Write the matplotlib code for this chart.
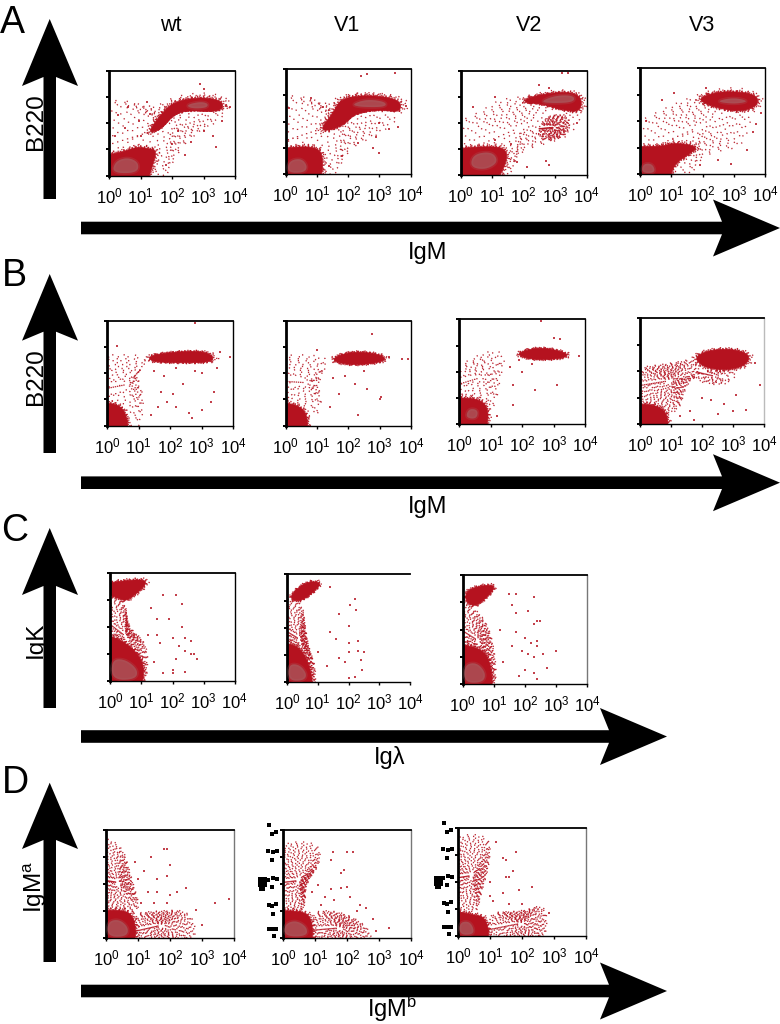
import matplotlib
matplotlib.use("Agg")
import matplotlib.pyplot as plt
import numpy as np
from matplotlib.patches import Polygon

plt.rcParams['font.family'] = ['Liberation Sans', 'DejaVu Sans']
plt.rcParams['mathtext.fontset'] = 'custom'
plt.rcParams['mathtext.rm'] = 'Liberation Sans'
plt.rcParams['mathtext.it'] = 'Liberation Sans'
plt.rcParams['mathtext.bf'] = 'Liberation Sans'

W, H = 780, 1024
RED = '#B5121F'
CORE = '#A95F63'

columns = ['wt', 'V1', 'V2', 'V3']
decades = [1, 10, 100, 1000, 10000]

A_wt_dense = [(0,0.72),(0.45,0.91),(0.88,1.10),(1.24,1.04),(1.51,0.97),(1.41,0.47),(1.19,0),(0,0)]
A_wt_band = [(1.25,1.67),(1.62,2.30),(2.04,2.81),(2.89,3.0),(3.58,2.87),(3.63,2.56),(3.31,2.43),(2.46,2.49),(2.04,2.30),(1.73,1.86),(1.46,1.67)]
A_wt_core = [(0.1,0.1),(0.2,0.55),(0.6,0.7),(0.95,0.5),(0.9,0.1)]
A_wt_core2 = [(2.46,2.7),(2.9,2.82),(3.15,2.75),(3.1,2.58),(2.6,2.56)]
A_wt_halo = [(0,0),(0,2.8),(0.5,2.9),(1.4,2.55),(2.1,3.05),(3.2,3.2),(3.95,2.85),(3.7,2.35),(3.2,1.85),(2.5,1.4),(2,0.5),(1.7,0)]
A_wt_dots = [(0.3,2.3),(0.6,2.6),(0.95,2.1),(0.5,1.8),(1.3,2.35),(1.0,1.5),(2.6,1.3),(3.0,1.7),(3.3,1.5),(2.9,3.5),(3.0,3.3),(2.0,1.2),(2.4,0.8),(3.4,1.1),(1.8,0.4),(2.2,1.7),(3.6,2.1),(3.7,2.65),(3.85,2.6),(1.2,2.8),(0.2,1.5)]

A_v1_dense = [(0,0),(0,0.95),(0.5,1.05),(1,1.0),(1.2,0.7),(1.15,0)]
A_v1_band = [(1.1,1.7),(1.5,2.3),(1.75,2.85),(2.4,3.0),(3.2,2.95),(3.7,2.75),(3.65,2.35),(3.0,2.45),(2.2,2.3),(1.9,1.9),(1.4,1.65)]
A_v1_core = [(0.05,0.05),(0.1,0.5),(0.5,0.6),(0.7,0.3),(0.6,0.05)]
A_v1_core2 = [(2.1,2.65),(2.6,2.85),(3.2,2.75),(3.2,2.55),(2.4,2.55)]
A_v1_halo = [(0,0),(0,3),(0.7,2.95),(1.3,2.6),(1.7,3),(2.8,3.15),(3.8,2.8),(3.7,2.2),(3,1.5),(2,1),(1.5,0)]
A_v1_dots = [(2.4,3.75),(2.6,3.8),(3.5,3.85),(3.6,1.8),(3.3,1.7),(2.9,1.4),(0.8,2.9),(1.2,2.55),(3.0,1.95),(2.3,1.2),(1.8,0.7),(2.8,1.0),(1.4,0.3),(3.85,2.6),(0.1,2.5),(3.0,0.8)]

A_v2_dense = [(0,0),(0,1.0),(0.8,1.1),(1.4,1.05),(1.5,0.6),(1.1,0)]
A_v2_band = [(2.0,2.9),(2.6,3.1),(3.4,3.2),(3.85,3.0),(3.8,2.4),(3.2,2.5),(2.5,2.75),(2.1,2.75)]
A_v2_core = [(0.3,0.3),(0.4,0.8),(1.0,0.9),(1.2,0.5),(0.8,0.2)]
A_v2_core2 = [(2.5,2.8),(3.0,3.05),(3.6,3.05),(3.6,2.8),(3.0,2.75)]
A_v2_halo = [(0,0),(0,1.9),(0.6,2.4),(1.2,2.9),(2,3.0),(3,3.3),(3.9,3.2),(3.9,2.4),(3.5,1.5),(2.7,1.2),(1.8,0.9),(1.5,0)]
A_v2_mid = [(2.4,1.4),(2.6,2.2),(3.4,2.4),(3.5,1.7),(3.0,1.3)]
A_v2_dots = [(3.2,3.9),(3.4,3.92),(2.5,3.45),(2.8,3.35),(1.1,3.0),(0.4,2.6),(2.8,0.4),(2.7,0.55),(1.8,0.5),(2.1,0.3),(3.7,2.0),(1.1,1.35),(1.6,1.2)]

A_v3_dense = [(0,0),(0,1.05),(0.7,1.05),(1.1,1.2),(1.9,1.05),(1.5,0.7),(1.1,0.4),(0.9,0)]
A_v3_band = [(1.9,2.9),(2.6,3.15),(3.7,3.05),(3.8,2.6),(3.2,2.35),(2.5,2.5),(2.0,2.7)]
A_v3_core = [(0.05,0.05),(0.1,0.4),(0.4,0.4),(0.5,0.05)]
A_v3_core2 = [(2.4,2.75),(3.0,2.9),(3.5,2.75),(3.0,2.65)]
A_v3_halo = [(0,0),(0,1.8),(0.8,2.5),(1.6,2.9),(2.3,3.2),(3.2,3.3),(3.9,3),(3.5,2),(3.3,1),(2,0.8),(1.5,0)]
A_v3_dots = [(1.1,3.05),(0.7,2.8),(3.7,1.9),(3.6,1.6),(2.5,0.55),(2.9,0.4),(1.9,0.35),(3.4,0.9),(0.2,2.0),(2.1,3.25),(3.85,2.3)]

B_wt_dense = [(0,0),(0,0.85),(0.3,0.85),(0.6,0.5),(0.7,0)]
B_wt_band = [(1.3,2.65),(2,2.8),(3,2.85),(3.4,2.65),(3.3,2.4),(2,2.4),(1.4,2.45)]
B_wt_halo = [(0,2.7),(0,0),(1,0),(1.2,1),(0.9,2),(1.3,2.4),(1,2.7),(0.5,2.7)]
B_wt_dots = [(1.5,2.1),(1.8,1.9),(2.2,2.2),(2.4,1.6),(1.7,1.3),(1.9,0.9),(2.2,0.7),(2.6,0.5),(3.0,0.6),(3.3,0.9),(3.4,1.3),(3.0,2.0),(3.5,2.2),(3.6,2.8),(2.8,2.1),(1.4,0.4),(1.6,0.7),(2.1,1.2),(2.7,0.3),(0.3,3.05),(3.9,2.6),(2.8,3.9)]

B_v1_dense = [(0,0),(0,0.9),(0.4,0.8),(0.7,0.4),(0.7,0)]
B_v1_band = [(1.5,2.6),(2.2,2.85),(3.1,2.7),(3.2,2.45),(2.3,2.3),(1.6,2.4)]
B_v1_halo = [(0,0.9),(0,2.7),(1.0,2.7),(1.4,2.5),(1.0,1.6),(1.2,0.8),(0.8,0.1)]
B_v1_dots = [(2.75,3.5),(3.3,2.6),(3.7,2.55),(3.9,2.55),(2.5,2.1),(2.6,1.4),(3.0,1.0),(2.3,0.4),(1.9,1.9),(2.2,1.6),(1.4,0.7),(3.05,1.1),(1.7,1.2),(1.5,1.8),(1.0,2.9)]

B_v2_dense = [(0,0),(0,1.0),(0.6,1.0),(0.95,0.6),(0.85,0)]
B_v2_band = [(1.9,2.75),(2.6,2.95),(3.5,2.7),(3.3,2.5),(2.4,2.45),(1.9,2.6)]
B_v2_core = [(0.2,0.25),(0.3,0.6),(0.6,0.55),(0.55,0.2)]
B_v2_halo = [(0,0.9),(0,2),(0.9,2.85),(1.5,2.7),(1.3,1.8),(1.1,0.3)]
B_v2_dots = [(3.0,3.3),(3.2,3.25),(2.6,3.95),(3.1,1.5),(2.4,1.3),(1.7,0.75),(1.7,1.5),(2.0,2.0),(2.3,2.3),(3.8,2.6),(1.2,0.3),(1.9,2.45),(1.6,2.2)]

B_v3_dense = [(0,0),(0,0.75),(0.5,0.75),(0.9,0.4),(0.9,0)]
B_v3_band = [(1.7,2.5),(2.2,2.8),(3,2.85),(3.6,2.6),(3.3,2.1),(2.2,2.05)]
B_v3_halo = [(0,0.8),(0,2.1),(1,2.3),(1.8,2.5),(2.0,1.9),(1.5,1.6),(1.2,0.2)]
B_v3_halo2 = [(1.5,1.9),(2.2,2.05),(3.2,2.1),(2.9,1.5),(2.1,1.5)]
B_v3_dots = [(2.0,1.0),(2.3,0.9),(2.7,0.75),(3.0,0.5),(3.4,0.55),(3.85,1.5),(2.5,0.4),(3.1,1.1),(1.6,0.5),(1.3,0.3),(1.75,0.15),(3.7,2.3)]

C_wt_dense = [(0,0),(0,1.8),(0.4,1.5),(0.9,1.0),(1.1,0.5),(1.0,0)]
C_wt_band = [(0,3.3),(0,3.6),(1.1,3.8),(1.15,3.55),(0.8,3.2),(0.5,2.95),(0.2,3.1)]
C_wt_core = [(0.05,0.05),(0.05,0.8),(0.5,0.8),(0.9,0.4),(0.8,0.05)]
C_wt_halo = [(0,1.5),(0,3.5),(0.5,3),(0.55,2),(1.2,1.4),(1.2,0.2),(0.9,0)]
C_wt_dots = [(1.3,2.7),(1.7,3.2),(2.1,3.2),(2.3,2.85),(1.5,2.3),(1.9,2.3),(2.0,1.6),(2.4,1.6),(2.6,1.5),(2.2,1.3),(1.6,1.4),(2.4,1.1),(2.6,1.0),(2.1,0.8),(2.0,0.3),(2.4,0.35),(2.7,1.0),(1.4,0.7),(1.7,0.3),(1.5,1.7),(2.8,0.8),(2.3,2.0),(1.2,1.7),(2.0,0.4)]

C_v1_dense = [(0,0),(0,1.4),(0.3,1.4),(0.7,0.8),(0.9,0)]
C_v1_band = [(0.1,3.2),(0.6,3.7),(1.1,3.7),(1.0,3.45),(0.5,3.0),(0.2,3)]
C_v1_core = [(0.05,0.05),(0.05,0.65),(0.4,0.65),(0.65,0.3),(0.55,0.05)]
C_v1_halo = [(0,1.2),(0,3.2),(0.5,3.0),(0.6,2.0),(0.7,1.3),(0.95,0.5),(0.9,0)]
C_v1_dots = [(1.4,3.5),(2.2,3.05),(2.05,2.85),(2.25,2.65),(1.7,2.5),(1.4,1.85),(1.6,1.6),(2.0,1.45),(2.0,1.1),(2.3,1.15),(2.5,1.1),(1.7,0.9),(1.9,0.75),(2.4,0.8),(2.45,0.45),(2.2,0.2),(2.0,0.15),(1.0,1.1),(1.3,0.6),(2.3,1.5),(2.0,2.05)]

C_v2_dense = [(0,0),(0,1.5),(0.7,1.3),(0.95,0.5),(0.95,0)]
C_v2_band = [(0.1,3.0),(0.1,3.45),(0.7,3.65),(1.1,3.6),(0.7,3.1),(0.4,2.85)]
C_v2_core = [(0.05,0.05),(0.05,0.7),(0.45,0.8),(0.75,0.4),(0.65,0.05)]
C_v2_halo = [(0,1.4),(0,3.2),(0.4,2.8),(0.8,2.2),(1.0,1.4),(1.1,0.3),(0.95,0)]
C_v2_dots = [(1.5,3.3),(1.7,3.3),(2.3,3.2),(1.6,2.9),(1.7,2.6),(2.1,2.7),(2.4,2.3),(2.5,2.3),(2.3,2.2),(1.2,2.0),(1.6,1.4),(1.7,1.9),(2.0,1.7),(2.2,1.5),(2.4,1.6),(1.9,1.2),(2.1,1.1),(2.3,1.0),(2.6,1.1),(2.7,0.6),(2.0,0.5),(2.3,0.4),(2.4,0.2),(3.0,1.2),(1.3,0.8),(1.8,0.3),(2.4,1.4)]

D_wt_dense = [(0,0),(0,1.0),(0.5,1.05),(0.9,0.8),(0.95,0)]
D_wt_band = [(0,0.9),(0,3.8),(0.5,3.5),(0.8,2.2),(1.1,1),(0.6,0.8)]
D_wt_core = [(0.05,0.05),(0.05,0.6),(0.4,0.7),(0.7,0.4),(0.65,0.05)]
D_wt_halo = [(0.8,0),(0.8,0.9),(1.5,1.0),(2.7,1.05),(2.85,0)]
D_wt_dots = [(0.9,2.8),(1.4,3.0),(1.8,3.3),(1.9,3.3),(2.0,2.7),(1.6,2.2),(1.9,2.3),(1.3,1.7),(1.6,1.7),(2.0,1.6),(2.5,1.85),(2.2,1.7),(1.1,1.3),(1.5,1.3),(1.9,1.3),(3.4,1.3),(3.85,1.45),(2.8,1.05),(3.0,0.5),(1.0,2.2),(1.2,2.5)]

D_v1_dense = [(0,0),(0,1),(0.5,1),(0.9,0.8),(0.95,0)]
D_v1_band = [(0,0.8),(0,3.5),(1.1,3.6),(1.2,2.8),(0.7,2),(0.7,1.2),(0.5,0.8)]
D_v1_core = [(0.05,0.05),(0.05,0.5),(0.4,0.65),(0.75,0.4),(0.75,0.05)]
D_v1_halo = [(0.8,0),(0.8,1.0),(1.8,1.0),(2.7,0.4),(2.8,0)]
D_v1_dots = [(1.5,2.9),(1.55,3.2),(2.0,3.2),(2.2,3.2),(1.8,2.4),(1.9,2.5),(1.5,1.8),(1.8,1.85),(2.0,1.9),(1.3,1.5),(1.6,1.4),(2.1,1.5),(2.4,1.2),(2.6,1.1),(2.8,0.7),(3.3,0.35),(2.9,0.25),(0.9,1.7),(1.2,1.2),(2.3,1.0),(1.1,1.95)]

D_v2_dense = [(0,0),(0,1),(0.4,0.8),(0.9,0.7),(1,0)]
D_v2_band = [(0,0.8),(0,3.7),(1.0,3.8),(1.0,2.7),(0.7,1.5),(0.6,0.8)]
D_v2_core = [(0.05,0.05),(0.05,0.5),(0.35,0.55),(0.5,0.25),(0.45,0.05)]
D_v2_halo = [(0.9,0),(0.9,0.9),(2.0,0.9),(2.7,1.2),(2.8,0.4),(2.6,0)]
D_v2_dots = [(1.2,3.5),(1.4,2.9),(1.5,2.8),(1.8,3.1),(1.6,2.2),(1.5,2.2),(1.7,2.4),(2.3,1.8),(1.9,1.7),(1.0,2.0),(1.4,1.6),(2.0,1.2),(2.85,0.85),(1.1,1.3),(1.6,1.2),(1.0,1.5)]

# Stray black specks of the scanned tick labels, in picture pixels.
speck_x = [269,272,276,268,273,277,272,268,273,277,272,269,272,276,273,269,272,276,274,
           444,447,451,443,448,452,447,443,448,452,447,444,447,451,448,444,447,451,449]
speck_y = [825,834,832,851,852,851,860,880,878,879,887,905,906,904,914,929,929,929,936,
           823,832,830,849,850,849,858,878,876,877,885,903,904,902,912,927,927,927,934]
blob_x = [261,264,261,264,262, 437,440,437,440,438]
blob_y = [880,880,884,884,888, 879,879,883,883,886]


def smooth(points, rounds=3):
    # Corner-cutting, so that an outline read at a few points draws as a rounded cloud.
    p = np.array(points, dtype=float)
    # points on the axis edge run on past it, so that rounding does not pull them off it
    p[p == 0] = -0.35
    for _ in range(rounds):
        nxt = np.roll(p, -1, axis=0)
        p = np.column_stack((0.75 * p + 0.25 * nxt, 0.25 * p + 0.75 * nxt)).reshape(-1, 2)
    return p


def to_axis(arr):
    return np.column_stack((10.0 ** arr[:, 0], 10.0 ** arr[:, 1]))


def make_axes(box, rightcol='black', rightlw=1.0):
    left, right, top, bottom = box
    ax = fig.add_axes([left / W, 1 - bottom / H, (right - left) / W, (bottom - top) / H])
    ax.set_xscale('log')
    ax.set_yscale('log')
    ax.set_xlim(1, 1e4)
    ax.set_ylim(1, 1e4)
    ax.set_xticks(decades)
    ax.set_yticks(decades)
    ax.tick_params(axis='x', which='major', direction='out', length=2.5, width=1.0, pad=5, labelsize=12)
    ax.tick_params(axis='x', which='minor', direction='out', length=1.2, width=0.8)
    ax.tick_params(axis='y', which='major', direction='out', length=2.5, width=1.4, labelleft=False)
    ax.tick_params(axis='y', which='minor', direction='out', length=1.2, width=0.8, labelleft=False)
    ax.spines['left'].set_linewidth(2.0)
    ax.spines['top'].set_linewidth(1.3)
    ax.spines['bottom'].set_linewidth(1.0)
    ax.spines['right'].set_linewidth(rightlw)
    ax.spines['right'].set_color(rightcol)
    return ax


def ring(ax, shape, scale, gap, z, lw=1.0, alpha=0.9):
    centre = shape.mean(axis=0)
    out = to_axis(centre + (shape - centre) * scale)
    ax.add_patch(Polygon(out, closed=True, facecolor='none', edgecolor=RED, lw=lw,
                         ls=(0, (0.9, gap)), alpha=alpha, zorder=z))


def speckled(ax, outline, gaps, z):
    # The speckle of a sparse cloud: dotted rings, filling the outline from the middle out.
    shape = smooth(outline)
    scales = np.linspace(1.0, 0.12, len(gaps))
    for s, g in zip(scales, gaps):
        ring(ax, shape, s, g, z)


SPARSE = [7.3, 6.1, 5.3, 4.7, 5.9, 4.3, 5.1, 3.9, 4.9, 4.1, 5.7, 3.7, 4.3, 3.3]
THICK = [4.7, 2.9, 3.7, 2.3, 3.1, 2.7, 1.9, 3.3, 2.1, 2.6, 1.7, 2.4, 3.0, 1.8, 2.2, 1.6, 2.8, 2.0, 1.7, 2.3, 1.5, 2.5]


def cloud(ax, halos=(), thick=(), solids=(), cores=(), dots=()):
    for h in halos:
        speckled(ax, h, SPARSE, 1)
    for t in thick:
        speckled(ax, t, THICK, 1.3)
    for s in solids:
        shape = smooth(s)
        ax.add_patch(Polygon(to_axis(shape), closed=True, facecolor=RED, edgecolor=RED, lw=0.5, zorder=2))
        for sc, g in zip((1.03, 1.07, 1.12, 1.18), (1.3, 2.1, 3.3, 5.2)):
            ring(ax, shape, sc, g, 1.8)
    for c in cores:
        shape = to_axis(smooth(c))
        ax.add_patch(Polygon(shape, closed=True, facecolor=CORE, edgecolor=CORE, lw=2.5, alpha=0.25, zorder=3))
        ax.add_patch(Polygon(shape, closed=True, facecolor=CORE, edgecolor='none', alpha=0.6, zorder=3.1))
    if len(dots):
        d = to_axis(np.array(dots))
        ax.scatter(d[:, 0], d[:, 1], s=1.8, marker='s', color=RED, linewidths=0, alpha=0.8, zorder=4)


fig = plt.figure(figsize=(W / 100, H / 100), dpi=100)

panels = [
    ((109, 235, 70.7, 175.7), [A_wt_halo], [], [A_wt_dense, A_wt_band], [A_wt_core, A_wt_core2], A_wt_dots, 'black'),
    ((285.7, 410.7, 69, 174), [A_v1_halo], [], [A_v1_dense, A_v1_band], [A_v1_core, A_v1_core2], A_v1_dots, 'black'),
    ((460.7, 586.7, 70.7, 175), [A_v2_halo], [A_v2_mid], [A_v2_dense, A_v2_band], [A_v2_core, A_v2_core2], A_v2_dots, 'black'),
    ((640, 765.3, 68.3, 174.3), [A_v3_halo], [], [A_v3_dense, A_v3_band], [A_v3_core, A_v3_core2], A_v3_dots, 'black'),
    ((107.3, 233, 320.7, 425.7), [B_wt_halo], [], [B_wt_dense, B_wt_band], [], B_wt_dots, 'black'),
    ((285.7, 411, 320.7, 425.7), [B_v1_halo], [], [B_v1_dense, B_v1_band], [], B_v1_dots, 'black'),
    ((459.3, 585.3, 319.3, 424.3), [B_v2_halo], [], [B_v2_dense, B_v2_band], [B_v2_core], B_v2_dots, 'black'),
    ((640, 764.3, 318.3, 424.3), [B_v3_halo2], [B_v3_halo], [B_v3_dense, B_v3_band], [], B_v3_dots, '#BBBBBB'),
    ((110.3, 234.7, 573, 681), [], [C_wt_halo], [C_wt_dense, C_wt_band], [C_wt_core], C_wt_dots, 'black'),
    ((287, 410, 573.7, 682), [], [C_v1_halo], [C_v1_dense, C_v1_band], [C_v1_core], C_v1_dots, 'white'),
    ((462.7, 587, 575.3, 684), [], [C_v2_halo], [C_v2_dense, C_v2_band], [C_v2_core], C_v2_dots, '#777777'),
    ((106, 234.3, 830, 938), [], [D_wt_halo, D_wt_band], [D_wt_dense], [D_wt_core], D_wt_dots, '#777777'),
    ((283, 411, 830, 937.7), [], [D_v1_halo, D_v1_band], [D_v1_dense], [D_v1_core], D_v1_dots, '#777777'),
    ((458, 586.3, 828, 936), [], [D_v2_halo, D_v2_band], [D_v2_dense], [D_v2_core], D_v2_dots, '#777777'),
]
for box, halos, thick, solids, cores, dots, rc in panels:
    ax = make_axes(box, rightcol=rc)
    cloud(ax, halos, thick, solids, cores, dots)

ov = fig.add_axes([0, 0, 1, 1], zorder=10)
ov.set_xlim(0, W)
ov.set_ylim(H, 0)
ov.axis('off')
ov.patch.set_alpha(0)

SHAFT_V = (43.5, 56)
CX = 49.7
for tip, back, notch, end in [(19, 86, 77, 199), (274, 340.7, 331.7, 453), (528, 595, 586, 708), (782.7, 849, 840, 962)]:
    ov.add_patch(Polygon([(CX, tip), (78, back), (SHAFT_V[1], notch), (SHAFT_V[1], end), (SHAFT_V[0], end),
                          (SHAFT_V[0], notch), (22, back)], closed=True, fc='black', ec='none', zorder=5))
for cy, tipx, backx, notchx, half in [(228, 780, 713, 722, 28.5), (482.7, 780, 713, 722, 28.5), (736.5, 667, 600, 609, 28.5), (991, 667, 600, 609, 28.5)]:
    ov.add_patch(Polygon([(tipx, cy), (backx, cy + half), (notchx, cy + 6.3), (81, cy + 6.3), (81, cy - 6.3),
                          (notchx, cy - 6.3), (backx, cy - half)], closed=True, fc='black', ec='none', zorder=5))

ov.scatter(speck_x, speck_y, s=5, marker='s', color='black', linewidths=0, zorder=6)
ov.scatter(blob_x, blob_y, s=16, marker='s', color='black', linewidths=0, zorder=6)

for letter, x, y in [('A', 0, 33), ('B', 1.5, 286), ('C', 1, 541), ('D', 2, 793)]:
    ov.text(x, y, letter, fontsize=27, ha='left', va='baseline', color='black')
for name, x in zip(columns, [171, 347, 529, 702]):
    ov.text(x, 31, name, fontsize=15.5, ha='center', va='baseline', color='black')
for label, y in [('B220', 122), ('B220', 377), ('IgK', 640), (r'IgM$^{\mathrm{a}}$', 887)]:
    ov.text(42.2, y, label, fontsize=17.5, rotation=90, rotation_mode='anchor', ha='center', va='baseline', zorder=2)
for label, x, y in [('IgM', 428, 259), ('IgM', 428, 513), ('Igλ', 390, 764), (r'IgM$^{\mathrm{b}}$', 392, 1017)]:
    ov.text(x, y, label, fontsize=17, ha='center', va='baseline', zorder=2)

fig.savefig('out.png', dpi=100, facecolor='white')
